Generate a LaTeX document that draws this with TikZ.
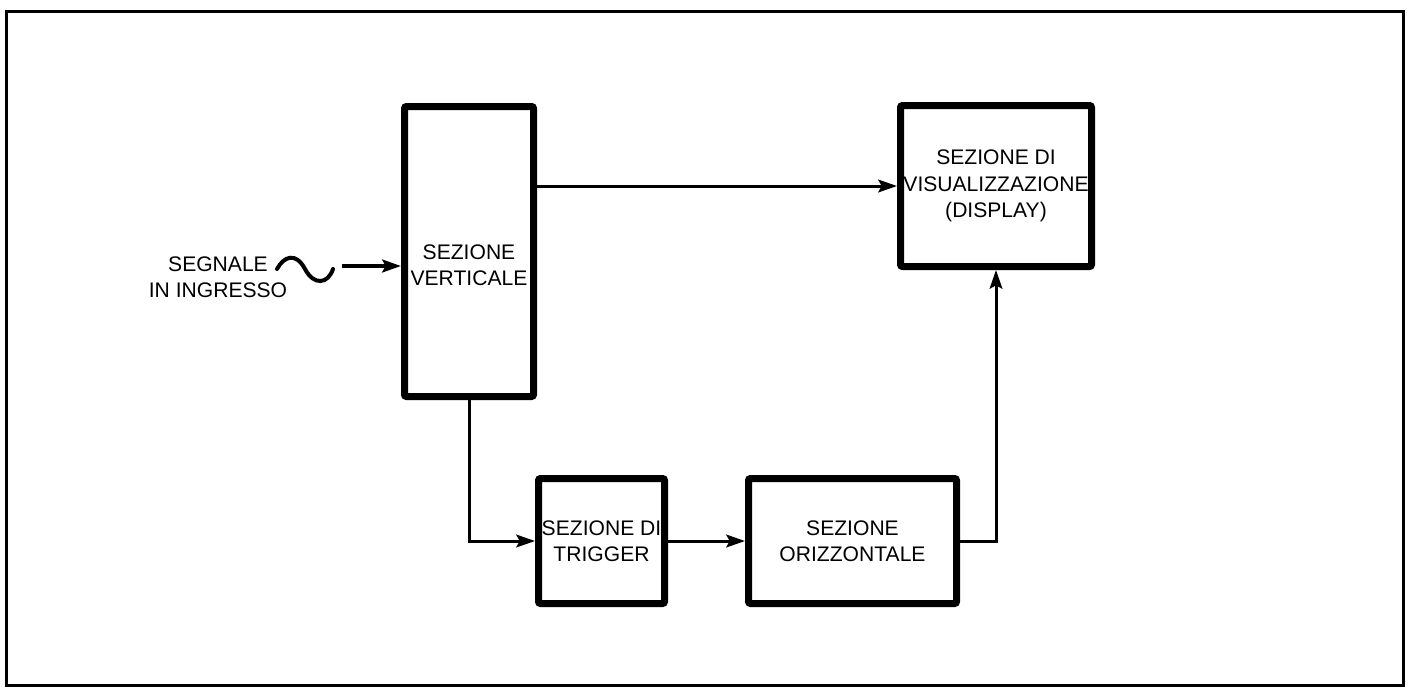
\documentclass[tikz,border=0pt]{standalone}
\usepackage{fontspec}
\setmainfont{Liberation Sans}
\usetikzlibrary{positioning,calc,arrows,arrows.meta}
\tikzset{font=\fontsize{18}{22.5}\selectfont}

\begin{document}
\begin{tikzpicture}[x=0.3mm, y=-0.3mm]
	\useasboundingbox (0, 0) rectangle (1409, 687);
	\draw[line width=0.9mm] (6, 11) rectangle (1403, 685);
	\begin{scope}
		\tikzstyle{every node}=[align=center, inner sep=1pt]
		\tikzstyle{block}=[draw, line width=2.1mm, rectangle, rounded corners=0.6mm]
		\tikzstyle{conn}=[line width=0.9mm, -{Stealth[length=5.6mm, width=3.8mm, inset=1mm]}]

		\node[block, minimum width=38.7mm, minimum height=87mm] (vert) at (469, 251.5) {};
		\node (verttxt) at (469, 265) {SEZIONE\\VERTICALE};
		\node[block, minimum width=57.3mm, minimum height=48.3mm] (disp) at (996, 186) {SEZIONE DI\\VISUALIZZAZIONE\\(DISPLAY)};
		\node[block, minimum width=37.8mm, minimum height=37.5mm] (trig) at (601.5, 541) {SEZIONE DI\\TRIGGER};
		\node[block, minimum width=62.4mm, minimum height=37.5mm] (oriz) at (852.5, 541) {SEZIONE\\ORIZZONTALE};

		\node (sig) at (218, 277) {SEGNALE\\IN INGRESSO};
		\coordinate (in) at (342, 266);
		\draw[line width=1.2mm, line cap=round] (277, 269) .. controls (284, 256) and (296, 252) .. (305, 269)
			.. controls (314, 286) and (328, 284) .. (333, 269);

		\draw[conn, line width=1.2mm] (in) -- (in -| vert.west);
		\draw[conn] (vert.east |- disp.west) -- (disp.west);
		\draw[conn] (vert.south) |- (trig.west);
		\draw[conn] (trig) -- (oriz);
		\draw[conn] (oriz.east) -| (disp.south);
	\end{scope}
\end{tikzpicture}
\end{document}
